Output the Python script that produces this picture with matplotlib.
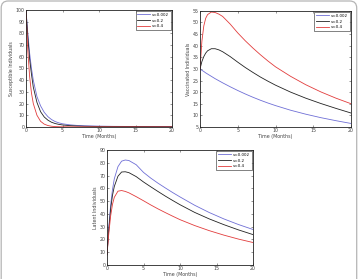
import matplotlib
matplotlib.use("Agg")
import matplotlib.pyplot as plt
from matplotlib.patches import FancyBboxPatch

# time grids (months)
t_s = [0, 0.25, 0.5, 0.75, 1, 1.5, 2, 2.5, 3, 3.5, 4, 4.5, 5, 6, 7, 8, 10, 12, 15, 20]
t_vl = [0, 0.25, 0.5, 0.75, 1, 1.5, 2, 2.5, 3, 4, 5, 6, 7, 8, 9, 10, 12, 14, 16, 18, 20]

labels = ["v=0.002", "v=0.2", "v=0.4"]

# Susceptible individuals
sus_blue = [100, 80, 63, 50, 40, 26, 18, 12.5, 8.8, 6.3, 4.6, 3.5, 2.7, 1.8, 1.3, 1.0, 0.7, 0.5, 0.4, 0.3]
sus_black = [100, 77, 58, 45, 34, 21, 13, 8.5, 5.8, 4.0, 2.9, 2.2, 1.7, 1.1, 0.8, 0.6, 0.4, 0.35, 0.3, 0.2]
sus_red = [100, 65, 43, 29, 20, 10, 4.8, 2.4, 1.2, 0.6, 0.3, 0.2, 0.15, 0.1, 0.07, 0.05, 0.03, 0.02, 0.02, 0.02]

# Vaccinated individuals
vac_blue = [30, 29.4, 28.9, 28.3, 27.8, 26.8, 25.8, 24.9, 24.0, 22.3, 20.7, 19.2, 17.8, 16.5, 15.3, 14.2, 12.2, 10.5, 9.0, 7.7, 6.5]
vac_black = [30, 33.2, 35.3, 36.8, 37.8, 38.7, 38.7, 38.2, 37.4, 35.3, 32.9, 30.6, 28.5, 26.5, 24.7, 23.0, 20.0, 17.4, 15.1, 13.0, 11.0]
vac_red = [30, 42, 48.5, 51.8, 53.4, 54.5, 54.3, 53.6, 52.6, 49.3, 45.5, 42.1, 39.0, 36.1, 33.4, 30.9, 26.8, 23.2, 20.1, 17.4, 15.0]

# Latent individuals
lat_blue = [8, 30, 47, 59, 67.5, 77, 81.3, 82.2, 81.8, 78.5, 72.5, 68, 64, 60.3, 56.7, 53.3, 46.8, 41.1, 36.1, 31.7, 27.8]
lat_black = [8, 28, 44, 54.5, 61.5, 69.5, 72.8, 73.0, 72.3, 69.2, 65, 61.2, 57.5, 53.9, 50.5, 47.2, 41.2, 36.1, 31.6, 27.5, 23.8]
lat_red = [8, 25, 38.5, 47.5, 53, 57.8, 58.3, 57.6, 56.5, 53.5, 50.3, 47, 43.9, 41, 38.2, 35.5, 30.9, 26.9, 23.4, 20.3, 17.6]

colors = ["#6f6fd6", "#222222", "#e23c3c"]
fs = 3.4

fig = plt.figure(figsize=(3.58, 2.79), dpi=100)
fig.patch.set_facecolor("white")

# rounded frame around the whole figure (bottom edge runs off the picture)
frame = FancyBboxPatch((0.012, -0.5), 3.555, 3.28, boxstyle="round,pad=0,rounding_size=0.07",
                       transform=fig.dpi_scale_trans, fill=False, edgecolor="#b5b5b5", linewidth=0.9)
fig.patches.append(frame)


def setup(ax, t, series, ylim, yticks, ylabel):
    for ys, c, lab in zip(series, colors, labels):
        ax.plot(t, ys, color=c, linewidth=0.6, label=lab)
    ax.set_xlim(0, 20)
    ax.set_ylim(*ylim)
    ax.set_xticks([0, 5, 10, 15, 20])
    ax.set_yticks(yticks)
    ax.tick_params(direction="in", length=1.5, width=0.4, labelsize=fs, pad=1,
                   top=True, right=True, colors="#444444")
    for s in ax.spines.values():
        s.set_linewidth(0.6)
        s.set_color("#222222")
    ax.set_xlabel("Time (Months)", fontsize=fs, labelpad=0.5, color="#444444")
    ax.set_ylabel(ylabel, fontsize=fs, labelpad=1, color="#444444")
    leg = ax.legend(loc="upper right", fontsize=2.9, frameon=True, fancybox=False,
                    handlelength=3.2, borderpad=0.45, labelspacing=0.45, handletextpad=0.5,
                    borderaxespad=0.25)
    leg.get_frame().set_edgecolor("#222222")
    leg.get_frame().set_linewidth(0.5)


ax1 = fig.add_axes([0.0726, 0.545, 0.408, 0.419])
setup(ax1, t_s, [sus_blue, sus_black, sus_red], (0, 100), range(0, 101, 10), "Susceptible Individuals")

ax2 = fig.add_axes([0.5587, 0.545, 0.4218, 0.416])
setup(ax2, t_vl, [vac_blue, vac_black, vac_red], (5, 55), range(5, 56, 5), "Vaccinated Individuals")

ax3 = fig.add_axes([0.2989, 0.0502, 0.4078, 0.412])
setup(ax3, t_vl, [lat_blue, lat_black, lat_red], (0, 90), range(0, 91, 10), "Latent Individuals")

fig.savefig("out.png", dpi=100)
